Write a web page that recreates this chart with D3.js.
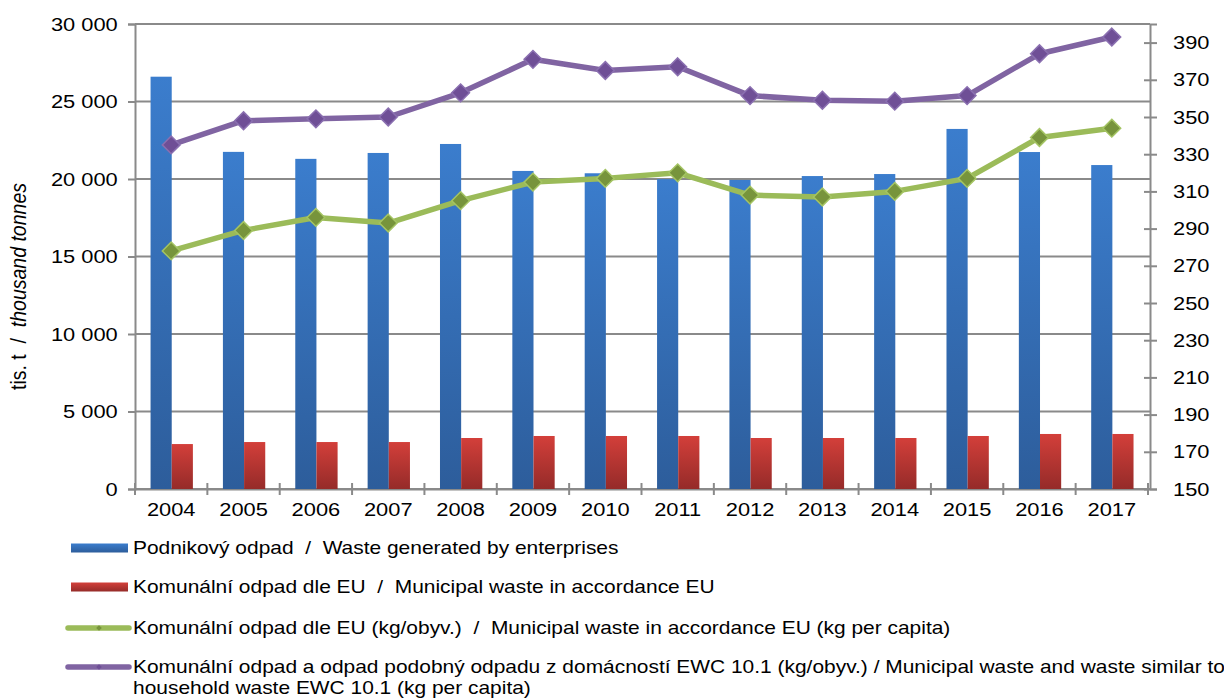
<!DOCTYPE html>
<html>
<head>
<meta charset="utf-8">
<script src="https://cdn.jsdelivr.net/npm/d3@7"></script>
<style>
  body { margin: 0; background: #fff; }
  text { font-family: "Liberation Sans", Arial, sans-serif; fill: #000; white-space: pre; }
</style>
</head>
<body>
<div id="chart"></div>
<script>
// data
const years = ["2004","2005","2006","2007","2008","2009","2010","2011","2012","2013","2014","2015","2016","2017"];
const enterpriseWaste = [26600, 21750, 21300, 21680, 22260, 20520, 20370, 19990, 19940, 20190, 20320, 23230, 21740, 20900];
const municipalWaste = [2900, 3030, 3030, 3030, 3290, 3420, 3420, 3420, 3290, 3290, 3290, 3420, 3550, 3550];
const municipalPerCapita = [278, 289, 296, 293, 305, 315, 317, 320, 308, 307, 310, 317, 339, 344];
const householdPerCapita = [335, 348, 349, 350, 363, 381, 375, 377, 361.5, 359, 358.5, 361.5, 384, 393];
const leftTicks = [0, 5000, 10000, 15000, 20000, 25000, 30000];
const rightTicks = [150, 170, 190, 210, 230, 250, 270, 290, 310, 330, 350, 370, 390];
const legendLabels = [
  "Podnikový odpad  /  Waste generated by enterprises",
  "Komunální odpad dle EU  /  Municipal waste in accordance EU",
  "Komunální odpad dle EU (kg/obyv.)  /  Municipal waste in accordance EU (kg per capita)",
  "Komunální odpad a odpad podobný odpadu z domácností EWC 10.1 (kg/obyv.) / Municipal waste and waste similar to"
];
const legendLabel4b = "household waste EWC 10.1 (kg per capita)";

const width = 1224, height = 700;
const margin = {top: 24, right: 74, bottom: 211, left: 135};
const SX = 1.15; // the original text is a bit wider than it is tall

const svg = d3.select("#chart").append("svg")
  .attr("width", width)
  .attr("height", height);

const defs = svg.append("defs");
function vGrad(id, top, bottom) {
  const g = defs.append("linearGradient").attr("id", id)
    .attr("x1", 0).attr("y1", 0).attr("x2", 0).attr("y2", 1);
  g.append("stop").attr("offset", "0%").attr("stop-color", top);
  g.append("stop").attr("offset", "100%").attr("stop-color", bottom);
}
vGrad("blueGrad", "#3b7dcd", "#2d5d9b");
vGrad("redGrad", "#d33f3a", "#952b29");

const x = d3.scaleBand()
  .domain(years)
  .range([margin.left, width - margin.right - 2])
  .padding(0);

const sub = d3.scaleBand()
  .domain(["ent", "mun"])
  .range([x.bandwidth() * 0.215, x.bandwidth() * 0.80])
  .padding(0);

const yL = d3.scaleLinear().domain([0, 30000]).range([height - margin.bottom, margin.top]);
const yR = d3.scaleLinear().domain([150, 400]).range([height - margin.bottom, margin.top]);

const plotL = margin.left, plotR = width - margin.right;
const gridColor = "#8a8a8a";

// gridlines
svg.append("g").selectAll("line")
  .data(leftTicks)
  .join("line")
  .attr("x1", plotL).attr("x2", plotR)
  .attr("y1", d => yL(d)).attr("y2", d => yL(d))
  .attr("stroke", gridColor).attr("stroke-width", 1.8);

// left axis
const leftAxis = svg.append("g")
  .attr("transform", `translate(${plotL},0)`)
  .call(d3.axisLeft(yL).tickValues(leftTicks).tickSize(7).tickPadding(8)
    .tickFormat(d => d3.format(",")(d).replace(/,/g, " ")));
leftAxis.select(".domain").attr("stroke", gridColor).attr("stroke-width", 2);
leftAxis.selectAll(".tick line").attr("stroke", gridColor).attr("stroke-width", 2);
leftAxis.selectAll("text").style("font-size", "19px").attr("transform", `scale(${SX},1)`);

// right axis
const rightAxis = svg.append("g")
  .attr("transform", `translate(${plotR},0)`)
  .call(d3.axisRight(yR).tickValues(rightTicks).tickSize(7).tickPadding(13));
rightAxis.select(".domain").attr("stroke", gridColor).attr("stroke-width", 2);
rightAxis.selectAll(".tick line").attr("stroke", gridColor).attr("stroke-width", 2).attr("x1", -6);
rightAxis.selectAll("text").style("font-size", "19px").attr("transform", `scale(${SX},1)`);

// bottom axis
const bottomY = yL(0);
const bottomAxis = svg.append("g")
  .attr("transform", `translate(0,${bottomY})`)
  .call(d3.axisBottom(x).tickSize(0).tickPadding(14));
bottomAxis.select(".domain").attr("stroke", gridColor).attr("stroke-width", 2);
bottomAxis.selectAll("text").style("font-size", "19px").attr("transform", `scale(${SX},1)`);
svg.append("g").selectAll("line")
  .data(years.concat(["end"]))
  .join("line")
  .attr("x1", (d, i) => plotL + i * x.bandwidth())
  .attr("x2", (d, i) => plotL + i * x.bandwidth())
  .attr("y1", bottomY - 6).attr("y2", bottomY + 6)
  .attr("stroke", gridColor).attr("stroke-width", 2);

// bars
const barG = svg.append("g");
barG.selectAll(".ent")
  .data(enterpriseWaste)
  .join("rect")
  .attr("class", "ent")
  .attr("x", (d, i) => x(years[i]) + sub("ent"))
  .attr("width", sub.bandwidth())
  .attr("y", d => yL(d))
  .attr("height", d => bottomY - yL(d))
  .attr("fill", "url(#blueGrad)");

barG.selectAll(".mun")
  .data(municipalWaste)
  .join("rect")
  .attr("class", "mun")
  .attr("x", (d, i) => x(years[i]) + sub("mun"))
  .attr("width", sub.bandwidth())
  .attr("y", d => yL(d))
  .attr("height", d => bottomY - yL(d))
  .attr("fill", "url(#redGrad)");

// lines
const cx = i => x(years[i]) + x.bandwidth() / 2;
const line = d3.line().x((d, i) => cx(i)).y(d => yR(d));
const diamond = d3.symbol().type(d3.symbolDiamond2).size(200);

function drawSeries(data, lineColor, markerFill, markerStroke) {
  const g = svg.append("g");
  g.append("path")
    .datum(data)
    .attr("d", line)
    .attr("fill", "none")
    .attr("stroke", lineColor)
    .attr("stroke-width", 5.5)
    .attr("stroke-linejoin", "round");
  g.selectAll("path.mk")
    .data(data)
    .join("path")
    .attr("class", "mk")
    .attr("d", diamond)
    .attr("transform", (d, i) => `translate(${cx(i)},${yR(d)})`)
    .attr("fill", markerFill)
    .attr("stroke", markerStroke)
    .attr("stroke-width", 1.5);
}
drawSeries(municipalPerCapita, "#9bbb59", "#77943c", "#a4c463");
drawSeries(householdPerCapita, "#8064a2", "#6f4f96", "#8a6fb0");

// y axis title
svg.append("text")
  .attr("transform", `translate(26,${(yL(0) + yL(30000)) / 2 + 30}) rotate(-90) scale(1,${SX})`)
  .attr("text-anchor", "middle")
  .style("font-size", "19.5px")
  .text("tis. t  /  ")
  .append("tspan")
  .style("font-style", "italic")
  .text("thousand tonnes");

// legend
const legY = [548, 587, 628, 667];
const legend = svg.append("g");
legendLabels.forEach((label, i) => {
  const y = legY[i];
  if (i < 2) {
    legend.append("rect")
      .attr("x", 71).attr("y", y - 4.5)
      .attr("width", 57).attr("height", 9)
      .attr("fill", i === 0 ? "url(#blueGrad)" : "url(#redGrad)");
  } else {
    const c = i === 2 ? "#9bbb59" : "#8064a2";
    legend.append("line")
      .attr("x1", 68).attr("x2", 129)
      .attr("y1", y).attr("y2", y)
      .attr("stroke", c).attr("stroke-width", 5.5)
      .attr("stroke-linecap", "round");
    legend.append("path")
      .attr("d", d3.symbol().type(d3.symbolDiamond2).size(20))
      .attr("transform", `translate(99,${y})`)
      .attr("fill", i === 2 ? "#77943c" : "#6f4f96");
  }
  legend.append("text")
    .attr("transform", `translate(133,${y + 6}) scale(${SX},1)`)
    .style("font-size", "18.2px")
    .text(label);
});
legend.append("text")
  .attr("transform", `translate(133,${legY[3] + 27}) scale(${SX},1)`)
  .style("font-size", "18.2px")
  .text(legendLabel4b);
</script>
</body>
</html>
